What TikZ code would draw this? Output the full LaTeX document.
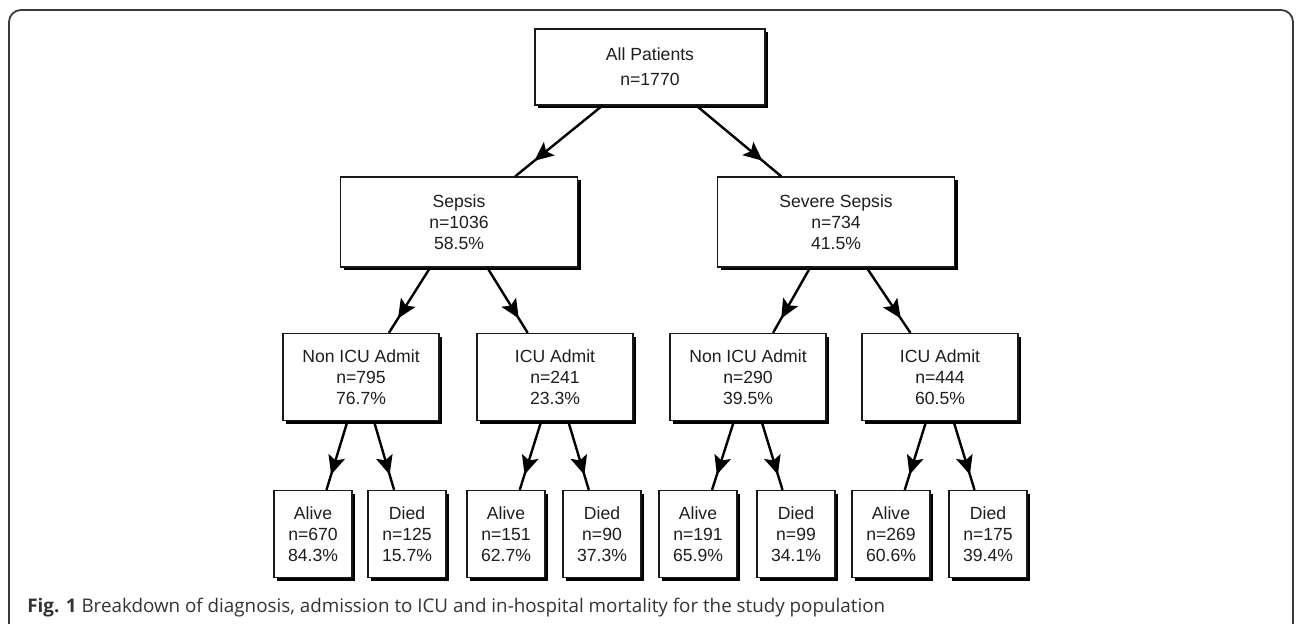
\documentclass[tikz,border=0pt]{standalone}
\usepackage{fontspec}
\setmainfont{Liberation Sans}
\newfontfamily\capfont{Open Sans}
\usepackage{tikz}
\usetikzlibrary{arrows.meta,shadows,decorations.markings}
\definecolor{ink}{HTML}{1E1E1E}
\definecolor{framegray}{HTML}{3A3A3A}
\definecolor{captext}{HTML}{333333}
\tikzset{
  tbox/.style     = {rectangle, draw=black!90, line width=0.65pt, fill=white,
                     align=center, inner sep=0pt, text=ink,
                     font=\fontsize{8.8}{10.5}\selectfont,
                     drop shadow={shadow xshift=1.6pt, shadow yshift=-1.6pt,
                                  opacity=1, fill=black}},
  rootbox/.style  = {tbox, minimum width=115pt, minimum height=38pt},
  diagbox/.style  = {tbox, minimum width=118.5pt, minimum height=45pt},
  admbox/.style   = {tbox, minimum width=78pt, minimum height=43.5pt},
  leafbox/.style  = {tbox, minimum width=39pt, minimum height=43.5pt},
  flow/.style     = {line width=1.2pt, draw=black, postaction={decorate},
                     decoration={markings, mark=at position 0.78 with
                       {\arrow{Stealth[length=9.5pt,width=8.5pt,inset=2pt]}}}},
}
\begin{document}
\begin{tikzpicture}[x=0.5pt,y=-0.5pt]
  \useasboundingbox (0,0) rectangle (1296,624);
  % frame round the figure
  \draw[framegray, line width=0.9pt, rounded corners=6pt]
    (9,624) -- (9,10) -- (1293,10) -- (1293,624);

  % root
  \node[rootbox] (all) at (650,67) {All Patients\\[2pt]n=1770};

  % diagnosis
  \node[diagbox] (sep) at (459,222) {Sepsis\\n=1036\\58.5\%};
  \node[diagbox] (sev) at (836,222) {Severe Sepsis\\n=734\\41.5\%};

  % admission
  \node[admbox] (sepnon) at (361,377) {Non ICU Admit\\n=795\\76.7\%};
  \node[admbox] (sepicu) at (555,377) {ICU Admit\\n=241\\23.3\%};
  \node[admbox] (sevnon) at (748,377) {Non ICU Admit\\n=290\\39.5\%};
  \node[admbox] (sevicu) at (940,377) {ICU Admit\\n=444\\60.5\%};

  % outcome
  \node[leafbox] (a1) at (313,534) {Alive\\n=670\\84.3\%};
  \node[leafbox] (d1) at (407,534) {Died\\n=125\\15.7\%};
  \node[leafbox] (a2) at (506,534) {Alive\\n=151\\62.7\%};
  \node[leafbox] (d2) at (602,534) {Died\\n=90\\37.3\%};
  \node[leafbox] (a3) at (698,534) {Alive\\n=191\\65.9\%};
  \node[leafbox] (d3) at (796,534) {Died\\n=99\\34.1\%};
  \node[leafbox] (a4) at (891,534) {Alive\\n=269\\60.6\%};
  \node[leafbox] (d4) at (988,534) {Died\\n=175\\39.4\%};

  % arrows
  \draw[flow] (all) -- (sep);
  \draw[flow] (all) -- (sev);
  \draw[flow] (sep) -- (sepnon);
  \draw[flow] (sep) -- (sepicu);
  \draw[flow] (sev) -- (sevnon);
  \draw[flow] (sev) -- (sevicu);
  \draw[flow] (sepnon) -- (a1);
  \draw[flow] (sepnon) -- (d1);
  \draw[flow] (sepicu) -- (a2);
  \draw[flow] (sepicu) -- (d2);
  \draw[flow] (sevnon) -- (a3);
  \draw[flow] (sevnon) -- (d3);
  \draw[flow] (sevicu) -- (a4);
  \draw[flow] (sevicu) -- (d4);

  % caption
  \node[anchor=base west, inner sep=0pt, text=captext,
        font=\capfont\fontsize{9.4}{11}\selectfont] (cap) at (27,613)
    {\textbf{Fig. 1} Breakdown of diagnosis, admission to ICU and in-hospital mortality for the study population};
\end{tikzpicture}
\end{document}
